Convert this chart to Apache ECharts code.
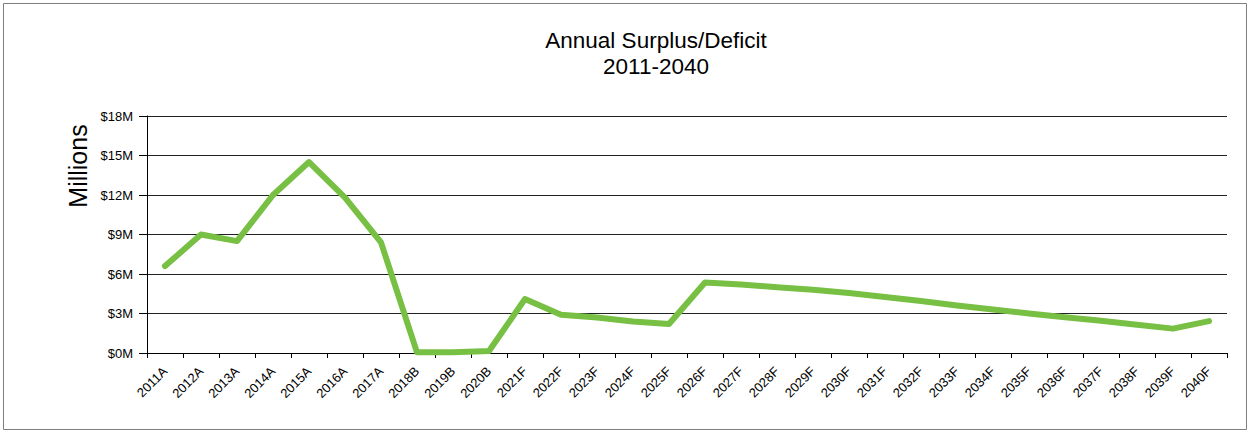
<!DOCTYPE html>
<html>
<head>
<meta charset="utf-8">
<style>
  html, body { margin: 0; padding: 0; background: #fff; }
  #chart { width: 1251px; height: 434px; }
</style>
<script src="https://cdn.jsdelivr.net/npm/echarts@6/dist/echarts.min.js"></script>
</head>
<body>
<div id="chart"></div>
<script>
// Fiscal years: A = actual, B = budget, F = forecast
const years = [
  '2011A','2012A','2013A','2014A','2015A','2016A','2017A','2018B','2019B','2020B',
  '2021F','2022F','2023F','2024F','2025F','2026F','2027F','2028F','2029F','2030F',
  '2031F','2032F','2033F','2034F','2035F','2036F','2037F','2038F','2039F','2040F'
];
// Annual surplus, in millions of dollars
const surplus = [
  6.6, 9.0, 8.5, 12.0, 14.5, 11.8, 8.4, 0.05, 0.05, 0.15,
  4.1, 2.9, 2.7, 2.4, 2.2, 5.35, 5.2, 5.0, 4.8, 4.55,
  4.25, 3.95, 3.6, 3.3, 3.0, 2.72, 2.45, 2.15, 1.85, 2.42
];
const yTicks = [0, 3, 6, 9, 12, 15, 18];

const chart = echarts.init(document.getElementById('chart'), null, { renderer: 'svg' });
const font = '"Liberation Sans", Arial, sans-serif';

chart.setOption({
  animation: false,
  textStyle: { fontFamily: font },
  title: {
    text: 'Annual Surplus/Deficit\n2011-2040',
    left: 651,
    textAlign: 'center',
    top: 22,
    textStyle: { fontFamily: font, fontSize: 22.5, fontWeight: 'normal', color: '#000', lineHeight: 26.5 }
  },
  graphic: [
    {
      type: 'rect',
      shape: { x: 3.5, y: 3.5, width: 1243, height: 426 },
      style: { fill: 'none', stroke: '#7f7f7f', lineWidth: 1 },
      silent: true
    },
    {
      type: 'text',
      x: 78, y: 166,
      rotation: Math.PI / 2,
      style: {
        text: 'Millions',
        fontFamily: font, fontSize: 25, fill: '#000',
        align: 'center', verticalAlign: 'middle'
      }
    }
  ],
  grid: { left: 147, right: 24, top: 116, bottom: 81 },
  xAxis: {
    type: 'category',
    data: years,
    boundaryGap: true,
    axisLine: { lineStyle: { color: '#000', width: 1 } },
    axisTick: { show: true, alignWithLabel: false, length: 5, lineStyle: { color: '#000' } },
    axisLabel: { rotate: 45, interval: 0, fontSize: 13, color: '#000', margin: 16, fontFamily: font }
  },
  yAxis: {
    type: 'value',
    min: yTicks[0],
    max: yTicks[yTicks.length - 1],
    interval: 3,
    axisLine: { show: true, lineStyle: { color: '#000', width: 1 } },
    axisTick: { show: true, length: 8, lineStyle: { color: '#000' } },
    axisLabel: { fontSize: 13, color: '#000', margin: 14, fontFamily: font, formatter: v => '$' + v + 'M' },
    splitLine: { show: true, lineStyle: { color: '#222', width: 1 } }
  },
  series: [{
    type: 'line',
    data: surplus,
    symbol: 'none',
    lineStyle: { color: '#77c043', width: 6, cap: 'round', join: 'round' }
  }]
});
</script>
</body>
</html>
